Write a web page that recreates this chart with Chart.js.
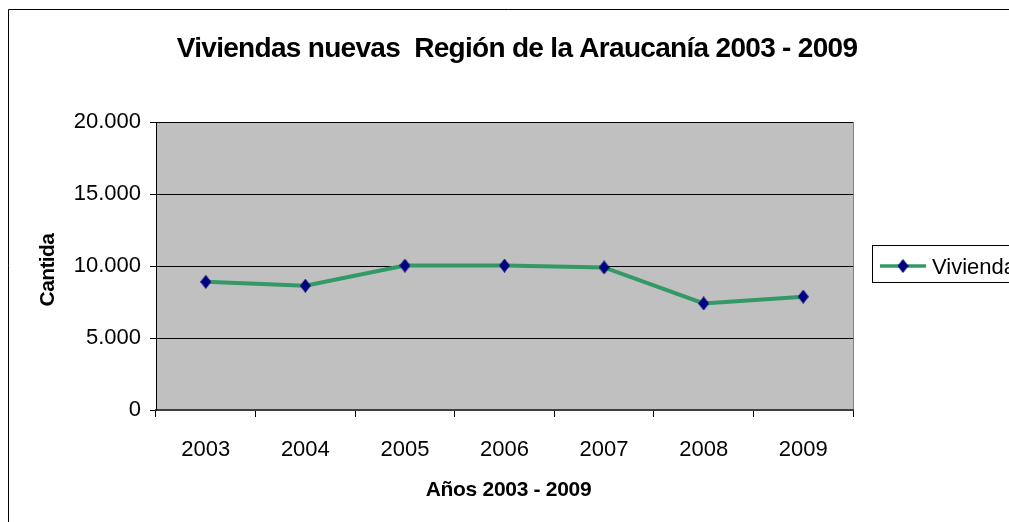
<!DOCTYPE html>
<html>
<head>
<meta charset="utf-8">
<script src="https://cdn.jsdelivr.net/npm/chart.js@4"></script>
<style>
  html, body { margin: 0; padding: 0; background: #fff; }
  #wrap { width: 1009px; height: 522px; position: relative; }
</style>
</head>
<body>
<div id="wrap"><canvas id="chart"></canvas></div>
<script>
// data
const years = ['2003', '2004', '2005', '2006', '2007', '2008', '2009'];
const viviendas = [8900, 8630, 10030, 10030, 9900, 7400, 7870];
const seriesName = 'Viviendas';

const chartTitle = 'Viviendas nuevas  Región de la Araucanía 2003 - 2009';
const xTitle = 'Años 2003 - 2009';
const yTitle = 'Cantida';

const FONT = '"Liberation Sans", Arial, sans-serif';
const LINE = '#339966';
const MARK = '#000080';

// diamond marker, a bit taller than wide like the Excel one
function diamond(w, h) {
    const c = document.createElement('canvas');
    c.width = w; c.height = h;
    const g = c.getContext('2d');
    g.fillStyle = MARK;
    g.beginPath();
    g.moveTo(w / 2, 0);
    g.lineTo(w, h / 2);
    g.lineTo(w / 2, h);
    g.lineTo(0, h / 2);
    g.closePath();
    g.fill();
    return c;
}
const marker = diamond(11, 14);

// frame, titles, legend
const decor = {
    id: 'decor',
    beforeDraw(chart) {
        const { ctx, chartArea: a } = chart;
        ctx.save();
        ctx.fillStyle = '#C0C0C0';
        ctx.fillRect(a.left, a.top, a.right - a.left, a.bottom - a.top);
        ctx.strokeStyle = '#808080';
        ctx.lineWidth = 1;
        ctx.beginPath();
        ctx.moveTo(a.right + 0.5, a.top);
        ctx.lineTo(a.right + 0.5, a.bottom);
        ctx.stroke();
        ctx.restore();
    },
    afterDraw(chart) {
        const { ctx, chartArea: a } = chart;
        ctx.save();
        // outer frame (only left and top are visible in the crop)
        ctx.strokeStyle = '#000';
        ctx.lineWidth = 1;
        ctx.beginPath();
        ctx.moveTo(8.5, 522);
        ctx.lineTo(8.5, 9.5);
        ctx.lineTo(1009, 9.5);
        ctx.stroke();

        ctx.fillStyle = '#000';
        ctx.textAlign = 'center';
        ctx.textBaseline = 'alphabetic';

        ctx.font = 'bold 28px ' + FONT;
        ctx.letterSpacing = '-0.7px';
        ctx.fillText(chartTitle, 517, 57);

        ctx.font = 'bold 21px ' + FONT;
        ctx.letterSpacing = '-0.3px';
        ctx.fillText(xTitle, (a.left + a.right) / 2 + 4, 496);

        ctx.save();
        ctx.translate(54, (a.top + a.bottom) / 2 + 4);
        ctx.rotate(-Math.PI / 2);
        ctx.font = 'bold 21px ' + FONT;
        ctx.letterSpacing = '-0.6px';
        ctx.fillText(yTitle, 0, 0);
        ctx.restore();

        // legend box, cut by the right edge
        ctx.strokeStyle = '#000';
        ctx.strokeRect(872.5, 245.5, 150, 37);
        ctx.strokeStyle = LINE;
        ctx.lineWidth = 3.5;
        ctx.beginPath();
        ctx.moveTo(880, 266);
        ctx.lineTo(926, 266);
        ctx.stroke();
        ctx.drawImage(marker, 897.5, 259);
        ctx.textAlign = 'left';
        ctx.font = '22px ' + FONT;
        ctx.letterSpacing = '0px';
        ctx.fillText(seriesName, 932, 274);
        ctx.restore();
    }
};

new Chart(document.getElementById('chart'), {
    type: 'line',
    data: {
        labels: years,
        datasets: [{
            label: seriesName,
            data: viviendas,
            borderColor: LINE,
            borderWidth: 4,
            pointStyle: marker,
            pointRadius: 7,
            pointHoverRadius: 7,
            tension: 0,
        }]
    },
    options: {
        responsive: true,
        maintainAspectRatio: false,
        animation: false,
        events: [],
        layout: { padding: { top: 122, right: 156, left: 0, bottom: 0 } },
        plugins: {
            legend: { display: false },
            title: { display: false },
            tooltip: { enabled: false }
        },
        scales: {
            x: {
                offset: true,
                afterFit: s => { s.height = 112; },
                grid: {
                    offset: true,
                    drawOnChartArea: false,
                    drawTicks: true,
                    tickLength: 7,
                    color: '#000',
                },
                border: { color: '#404040', width: 2 },
                ticks: {
                    color: '#000',
                    padding: 20,
                    font: { family: FONT, size: 22 },
                }
            },
            y: {
                min: 0,
                max: 20000,
                afterFit: s => { s.width = 156; },
                grid: {
                    color: ctx => ctx.tick && ctx.tick.value === 0 ? 'rgba(0,0,0,0)' : '#000',
                    tickColor: '#000',
                    tickLength: 6,
                },
                border: { color: '#000', width: 1 },
                ticks: {
                    stepSize: 5000,
                    color: '#000',
                    padding: 9,
                    font: { family: FONT, size: 22 },
                    callback: v => v.toLocaleString('de-DE')
                }
            }
        }
    },
    plugins: [decor]
});
</script>
</body>
</html>
